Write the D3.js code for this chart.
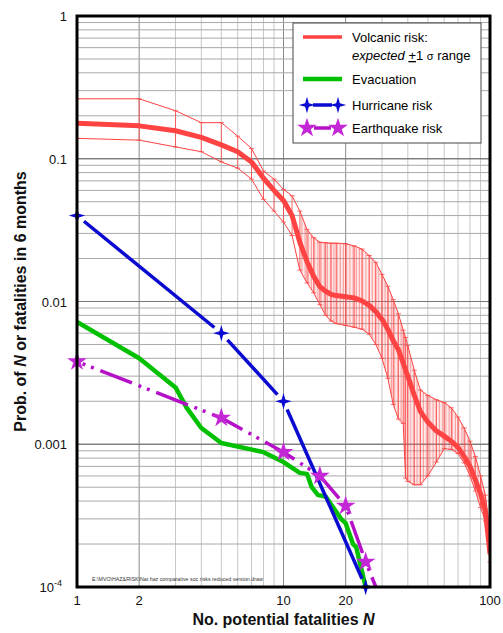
<!DOCTYPE html>
<html>
<head>
<meta charset="utf-8">
<script src="https://cdn.jsdelivr.net/npm/d3@7/dist/d3.min.js"></script>
<style>
  body { margin: 0; background: #fff; }
  text { font-family: "Liberation Sans", Arial, sans-serif; }
</style>
</head>
<body>
<div id="chart"></div>
<script>
// Volcanic risk: expected value with +/-1 sigma range
const volcN    = [1, 2, 3, 4, 5, 6, 7, 8, 9, 10, 11, 12, 13, 14, 15, 16, 17, 18, 20, 22, 24, 26, 28, 30, 32, 34, 36, 38, 39, 40, 43, 46, 50, 55, 60, 65, 70, 75, 80, 85, 90, 95, 100];
const volcMean = [0.177, 0.170, 0.157, 0.141, 0.125, 0.112, 0.095, 0.073, 0.060, 0.051, 0.040, 0.026, 0.019, 0.015, 0.0127, 0.0118, 0.0112, 0.011, 0.0108, 0.0106, 0.0101, 0.0094, 0.0085, 0.0075, 0.0064, 0.0053, 0.0046, 0.0037, 0.0033, 0.003, 0.0022, 0.0017, 0.00143, 0.00124, 0.00114, 0.00105, 0.00095, 0.00082, 0.0007, 0.00056, 0.00045, 0.00034, 0.00017];
const volcHi   = [0.263, 0.263, 0.217, 0.179, 0.179, 0.144, 0.118, 0.082, 0.072, 0.061, 0.055, 0.043, 0.032, 0.028, 0.026, 0.0258, 0.0256, 0.0256, 0.0254, 0.0245, 0.0233, 0.021, 0.0188, 0.0155, 0.0128, 0.0103, 0.0082, 0.0063, 0.0056, 0.0049, 0.0033, 0.0024, 0.0022, 0.00205, 0.00196, 0.0018, 0.00155, 0.0013, 0.00105, 0.00082, 0.0006, 0.00044, 0.00024];
const volcLo   = [0.139, 0.135, 0.121, 0.112, 0.095, 0.086, 0.072, 0.052, 0.043, 0.036, 0.029, 0.0166, 0.0135, 0.0115, 0.0095, 0.008, 0.0073, 0.007, 0.0068, 0.0066, 0.0064, 0.0059, 0.005, 0.004, 0.0029, 0.0019, 0.0015, 0.0014, 0.00058, 0.00055, 0.00052, 0.00052, 0.0006, 0.00075, 0.00093, 0.00092, 0.00086, 0.00074, 0.0006, 0.00047, 0.00036, 0.00029, 0.00015];

// Evacuation
const evacN = [1, 2, 3, 3.4, 4, 5, 8, 10, 12, 13, 13.7, 14.7, 16, 19, 20, 21.7, 22.5, 25];
const evacP = [0.0072, 0.0040, 0.0025, 0.0018, 0.0013, 0.00102, 0.00088, 0.00075, 0.00063, 0.00062, 0.0005, 0.00044, 0.00043, 0.0003, 0.00028, 0.0002, 0.00019, 0.0001];

// Hurricane risk
const hurrN = [1, 5, 10, 25];
const hurrP = [0.04, 0.006, 0.002, 0.0001];

// Earthquake risk (last point continues the line without a marker)
const quakeN = [1, 5, 10, 15, 20, 25, 28];
const quakeP = [0.0038, 0.00153, 0.00088, 0.0006, 0.00037, 0.00015, 0.0001];
const quakeMarked = 6;

// ticks
const xTickVals = [1, 2, 10, 20, 100];
const xTickLabels = ['1', '2', '10', '20', '100'];
const yTickVals = [1, 0.1, 0.01, 0.001, 0.0001];
const yTickLabels = ['1', '0.1', '0.01', '0.001', '10'];

const width = 503, height = 633;
const margin = { left: 77, right: 13, top: 16, bottom: 46 };

const red = '#ff4343', green = '#00c000', blue = '#0a0ad0', purple = '#b510c8';

const x = d3.scaleLog().domain([1, 100]).range([margin.left, width - margin.right]);
const y = d3.scaleLog().domain([1e-4, 1]).range([height - margin.bottom, margin.top]);

const svg = d3.select('#chart').append('svg')
    .attr('width', width)
    .attr('height', height);

const defs = svg.append('defs');
defs.append('clipPath').attr('id', 'plot')
    .append('rect')
    .attr('x', x(1)).attr('y', y(1))
    .attr('width', x(100) - x(1)).attr('height', y(1e-4) - y(1));

const hatch = defs.append('pattern')
    .attr('id', 'hatch')
    .attr('patternUnits', 'userSpaceOnUse')
    .attr('width', 3.2).attr('height', 10);
hatch.append('rect').attr('width', 3.2).attr('height', 10).attr('fill', 'rgba(255,110,110,0.16)');
hatch.append('line').attr('x1', 1).attr('x2', 1).attr('y1', 0).attr('y2', 10)
    .attr('stroke', 'rgba(240,60,60,0.75)').attr('stroke-width', 0.7);

// grid
const grid = svg.append('g');
const xGrid = [];
[1, 10].forEach(d => { for (let k = 1; k <= 10; k++) xGrid.push(d * k); });
const yGrid = [];
[1e-4, 1e-3, 1e-2, 1e-1].forEach(d => { for (let k = 1; k <= 10; k++) yGrid.push(d * k); });

grid.selectAll('.vg').data(xGrid).join('line')
    .attr('x1', d => x(d)).attr('x2', d => x(d))
    .attr('y1', y(1)).attr('y2', y(1e-4))
    .attr('stroke', d => (d === 10 || d === 2 || d === 20) ? '#8a8a8a' : '#c8c8c8')
    .attr('stroke-width', 1);
grid.selectAll('.hg').data(yGrid).join('line')
    .attr('x1', x(1)).attr('x2', x(100))
    .attr('y1', d => y(d)).attr('y2', d => y(d))
    .attr('stroke', d => Math.abs(Math.log10(d) % 1) < 1e-9 ? '#777' : '#a9a9a9')
    .attr('stroke-width', 1);

const plot = svg.append('g').attr('clip-path', 'url(#plot)');

// volcanic band
const volc = volcN.map((n, i) => ({ n, m: volcMean[i], hi: volcHi[i], lo: volcLo[i] }));
const area = d3.area().x(d => x(d.n)).y0(d => y(d.lo)).y1(d => y(d.hi));
plot.append('path')
    .datum(volc.filter(d => d.n >= 12))
    .attr('fill', 'url(#hatch)')
    .attr('d', area);

plot.selectAll('.bar').data(volc).join('line')
    .attr('x1', d => x(d.n)).attr('x2', d => x(d.n))
    .attr('y1', d => y(d.lo)).attr('y2', d => y(d.hi))
    .attr('stroke', red).attr('stroke-width', 0.8);
plot.selectAll('.capHi').data(volc).join('line')
    .attr('x1', d => x(d.n) - 2.5).attr('x2', d => x(d.n) + 2.5)
    .attr('y1', d => y(d.hi)).attr('y2', d => y(d.hi))
    .attr('stroke', red).attr('stroke-width', 0.8);
plot.selectAll('.capLo').data(volc).join('line')
    .attr('x1', d => x(d.n) - 2.5).attr('x2', d => x(d.n) + 2.5)
    .attr('y1', d => y(d.lo)).attr('y2', d => y(d.lo))
    .attr('stroke', red).attr('stroke-width', 0.8);

const lineOf = key => d3.line().x(d => x(d.n)).y(d => y(d[key]));
plot.append('path').datum(volc).attr('fill', 'none')
    .attr('stroke', red).attr('stroke-width', 1).attr('d', lineOf('hi'));
plot.append('path').datum(volc).attr('fill', 'none')
    .attr('stroke', red).attr('stroke-width', 1).attr('d', lineOf('lo'));
plot.append('path').datum(volc).attr('fill', 'none')
    .attr('stroke', red).attr('stroke-width', 5).attr('stroke-linejoin', 'round')
    .attr('d', lineOf('m'));

// evacuation
const evac = evacN.map((n, i) => ({ n, p: evacP[i] }));
plot.append('path').datum(evac).attr('fill', 'none')
    .attr('stroke', green).attr('stroke-width', 4.5).attr('stroke-linejoin', 'round')
    .attr('d', d3.line().x(d => x(d.n)).y(d => y(d.p)));

// earthquake
const quake = quakeN.map((n, i) => ({ n, p: quakeP[i] }));
plot.append('path').datum(quake).attr('fill', 'none')
    .attr('stroke', purple).attr('stroke-width', 3.5)
    .attr('stroke-dasharray', '3,6,3,7,34,7')
    .attr('stroke-dashoffset', -6)
    .attr('d', d3.line().x(d => x(d.n)).y(d => y(d.p)));

// hurricane: solid segments broken around the markers
const hurr = hurrN.map((n, i) => ({ n, p: hurrP[i] }));
const gap = 9;
const segs = d3.pairs(hurr).map(([a, b]) => {
    const x0 = x(a.n), y0 = y(a.p), x1 = x(b.n), y1 = y(b.p);
    const len = Math.hypot(x1 - x0, y1 - y0);
    const ux = (x1 - x0) / len, uy = (y1 - y0) / len;
    return { x0: x0 + ux * gap, y0: y0 + uy * gap, x1: x1 - ux * gap, y1: y1 - uy * gap };
});
plot.selectAll('.hseg').data(segs).join('line')
    .attr('x1', d => d.x0).attr('y1', d => d.y0)
    .attr('x2', d => d.x1).attr('y2', d => d.y1)
    .attr('stroke', blue).attr('stroke-width', 3.5);

// marker shapes
const sparkle = {
    draw(ctx, size) {
        const R = Math.sqrt(size) * 0.75, r = R * 0.32;
        for (let k = 0; k < 8; k++) {
            const a = k * Math.PI / 4 - Math.PI / 2;
            const rr = k % 2 === 0 ? R : r;
            if (k === 0) ctx.moveTo(rr * Math.cos(a), rr * Math.sin(a));
            else ctx.lineTo(rr * Math.cos(a), rr * Math.sin(a));
        }
        ctx.closePath();
    }
};
const sparklePath = d3.symbol().type(sparkle).size(120)();
const starPath = d3.symbol().type(d3.symbolStar).size(120)();

svg.append('g').selectAll('path').data(hurr).join('path')
    .attr('transform', d => `translate(${x(d.n)},${y(d.p)})`)
    .attr('d', sparklePath).attr('fill', blue);
svg.append('g').selectAll('path').data(quake.slice(0, quakeMarked)).join('path')
    .attr('transform', d => `translate(${x(d.n)},${y(d.p)})`)
    .attr('d', starPath).attr('fill', '#c428d6');

// frame
svg.append('rect')
    .attr('x', x(1)).attr('y', y(1))
    .attr('width', x(100) - x(1)).attr('height', y(1e-4) - y(1))
    .attr('fill', 'none').attr('stroke', '#000').attr('stroke-width', 3);

// tick labels
svg.append('g').selectAll('text').data(xTickVals).join('text')
    .attr('x', d => x(d)).attr('y', y(1e-4) + 18)
    .attr('text-anchor', 'middle').attr('font-size', 13).attr('fill', '#111')
    .text((d, i) => xTickLabels[i]);
const yl = svg.append('g').selectAll('text').data(yTickVals).join('text')
    .attr('x', d => d === 1e-4 ? x(1) - 15 : x(1) - 10)
    .attr('y', d => y(d) + 5)
    .attr('text-anchor', 'end').attr('font-size', 13).attr('fill', '#111')
    .text((d, i) => yTickLabels[i]);
yl.filter(d => d === 1e-4).append('tspan')
    .attr('dy', -6).attr('font-size', 9).text('-4');

// axis titles
const xt = svg.append('text')
    .attr('x', (x(1) + x(100)) / 2).attr('y', height - 8)
    .attr('text-anchor', 'middle').attr('font-size', 16).attr('font-weight', 'bold').attr('fill', '#111');
xt.append('tspan').text('No. potential fatalities ');
xt.append('tspan').attr('font-style', 'italic').text('N');

const ytt = svg.append('text')
    .attr('transform', `translate(26,${(y(1) + y(1e-4)) / 2}) rotate(-90)`)
    .attr('text-anchor', 'middle').attr('font-size', 16).attr('font-weight', 'bold').attr('fill', '#111');
ytt.append('tspan').text('Prob. of ');
ytt.append('tspan').attr('font-style', 'italic').text('N');
ytt.append('tspan').text(' or fatalities in 6 months');

// file path note
svg.append('text')
    .attr('x', 92).attr('y', y(1e-4) - 6)
    .attr('font-size', 5.3).attr('fill', '#333')
    .text('E:\\MVO\\HAZ&RISK\\Nat haz comparative soc risks reduced version.draw');

// legend
const lg = svg.append('g');
lg.append('rect')
    .attr('x', 293).attr('y', 23).attr('width', 188).attr('height', 120)
    .attr('fill', '#fff').attr('stroke', '#444').attr('stroke-width', 1);
const lx0 = 303, lx1 = 342, tx = 352;
lg.append('line').attr('x1', lx0).attr('x2', lx1).attr('y1', 37).attr('y2', 37)
    .attr('stroke', red).attr('stroke-width', 3.5);
lg.append('text').attr('x', tx).attr('y', 42).attr('font-size', 13).text('Volcanic risk:');
const l2 = lg.append('text').attr('x', tx).attr('y', 60).attr('font-size', 13);
l2.append('tspan').attr('font-style', 'italic').text('expected ');
l2.append('tspan').attr('text-decoration', 'underline').text('+');
l2.append('tspan').text('1 ');
l2.append('tspan').attr('font-size', 11).text('σ');
l2.append('tspan').text(' range');

lg.append('line').attr('x1', lx0).attr('x2', lx1).attr('y1', 79).attr('y2', 79)
    .attr('stroke', green).attr('stroke-width', 4.5);
lg.append('text').attr('x', tx).attr('y', 84).attr('font-size', 13).text('Evacuation');

lg.append('line').attr('x1', lx0 + 10).attr('x2', lx1 - 10).attr('y1', 105).attr('y2', 105)
    .attr('stroke', blue).attr('stroke-width', 3.5);
lg.append('path').attr('transform', `translate(${lx0 + 4},105)`).attr('d', sparklePath).attr('fill', blue);
lg.append('path').attr('transform', `translate(${lx1 - 4},105)`).attr('d', sparklePath).attr('fill', blue);
lg.append('text').attr('x', tx).attr('y', 110).attr('font-size', 13).text('Hurricane risk');

lg.append('line').attr('x1', lx0 + 11).attr('x2', lx1 - 11).attr('y1', 128).attr('y2', 128)
    .attr('stroke', purple).attr('stroke-width', 3.5);
lg.append('path').attr('transform', `translate(${lx0 + 4},128)`).attr('d', starPath).attr('fill', '#c428d6');
lg.append('path').attr('transform', `translate(${lx1 - 4},128)`).attr('d', starPath).attr('fill', '#c428d6');
lg.append('text').attr('x', tx).attr('y', 133).attr('font-size', 13).text('Earthquake risk');
</script>
</body>
</html>
